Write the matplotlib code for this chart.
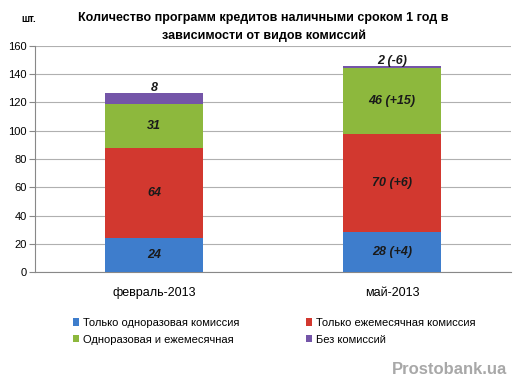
import numpy as np
import matplotlib.pyplot as plt

plt.rcParams['font.family'] = ['Liberation Sans', 'DejaVu Sans']

categories = ['февраль-2013', 'май-2013']
series_names = ['Только одноразовая комиссия', 'Только ежемесячная комиссия',
                'Одноразовая и ежемесячная', 'Без комиссий']
one_time = [24, 28]
monthly = [64, 70]
both = [31, 46]
no_fee = [8, 2]
labels_one_time = ['24', '28 (+4)']
labels_monthly = ['64', '70 (+6)']
labels_both = ['31', '46 (+15)']
labels_no_fee = ['8', '2 (-6)']

colors = ['#3e7dcc', '#d2382f', '#8db83d', '#7455a8']

fig = plt.figure(figsize=(5.27, 3.92), dpi=100)
ax = fig.add_axes([0.0664, 0.306, 0.9032, 0.577])

x = np.arange(len(categories))
width = 0.41
series = [one_time, monthly, both, no_fee]
labels = [labels_one_time, labels_monthly, labels_both, labels_no_fee]
bottom = np.zeros(len(categories))
handles = []
for vals, labs, col, name in zip(series, labels, colors, series_names):
    vals = np.array(vals, dtype=float)
    h = ax.bar(x, vals, width, bottom=bottom, color=col, label=name, zorder=3)
    handles.append(h)
    for i in range(len(x)):
        # small segments get their label above the bar
        if vals[i] < 10:
            ypos = bottom[i] + vals[i] + 3.5
        else:
            ypos = bottom[i] + vals[i] / 2
        ax.text(x[i], ypos, labs[i], ha='center', va='center', fontsize=9,
                fontstyle='italic', fontweight='bold', color='#1a1a1a', zorder=4)
    bottom += vals

ax.set_xlim(-0.5, 1.5)
ax.set_ylim(0, 160)
ax.set_yticks(range(0, 161, 20))
ax.set_xticks(x)
ax.set_xticklabels(categories, fontsize=9)
ax.tick_params(axis='y', labelsize=8, length=4, color='#888888', pad=2)
ax.tick_params(axis='x', length=0, pad=11)
ax.grid(axis='y', color='#b0b0b0', linewidth=0.8, zorder=0)
for s in ['top', 'right']:
    ax.spines[s].set_visible(False)
for s in ['left', 'bottom']:
    ax.spines[s].set_color('#888888')

fig.text(0.055, 0.952, 'шт.', fontsize=7, fontweight='bold', ha='center', va='center')
fig.text(0.5, 0.932, 'Количество программ кредитов наличными сроком 1 год в\nзависимости от видов комиссий',
         ha='center', va='center', fontsize=9, fontweight='bold', linespacing=1.55)

order = [0, 2, 1, 3]
leg = fig.legend([handles[i] for i in order], [series_names[i] for i in order],
                 ncol=2, loc='center', bbox_to_anchor=(0.52, 0.155), frameon=False,
                 fontsize=8, handlelength=0.6, handleheight=0.6, handletextpad=0.3,
                 columnspacing=6, labelspacing=0.6)

fig.text(0.962, 0.057, 'Prostobank.ua', ha='right', va='center', fontsize=12,
         fontweight='bold', color='#a8a8a8')

fig.savefig('out.png', dpi=100)
